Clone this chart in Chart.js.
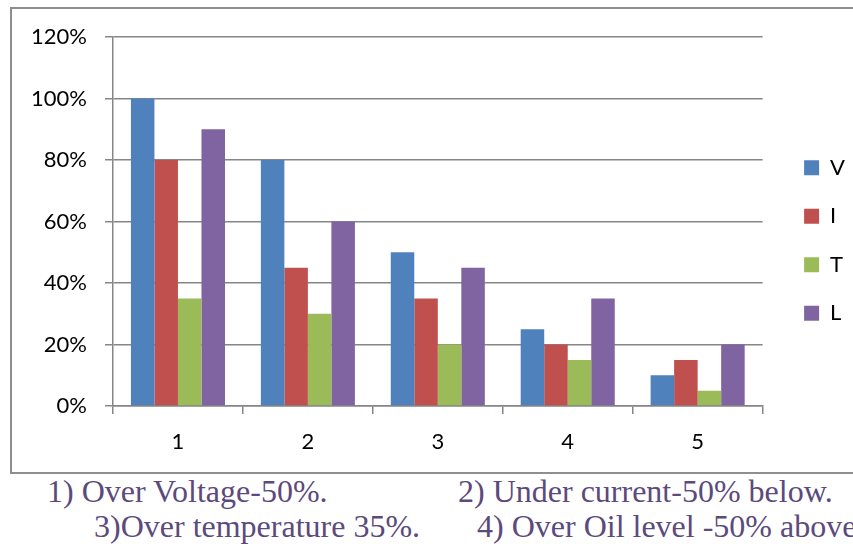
<!DOCTYPE html>
<html>
<head>
<meta charset="utf-8">
<script src="https://cdn.jsdelivr.net/npm/chart.js@4/dist/chart.umd.min.js"></script>
<style>
  html, body { margin:0; padding:0; background:#fff; width:853px; height:544px; overflow:hidden; }
  #box { position:absolute; left:10px; top:7px; width:900px; height:467px; border:2px solid #8e8e8e; box-sizing:border-box; }
  #wrap { position:absolute; left:12px; top:9px; width:841px; height:461px; }
  .cap { position:absolute; font-family:"Liberation Serif","Times New Roman",serif; font-size:32px; line-height:32px; color:#5c4a7d; white-space:pre; }
</style>
</head>
<body>
<div id="box"></div>
<div id="wrap"><canvas id="c" width="841" height="461"></canvas></div>
<div class="cap" style="left:47px; top:475px;">1) Over Voltage-50%.</div>
<div class="cap" style="left:458px; top:475px;">2) Under current-50% below.</div>
<div class="cap" style="left:94px; top:510px;">3)Over temperature 35%.</div>
<div class="cap" style="left:477px; top:510px;">4) Over Oil level -50% above</div>
<script>
const categories = ["1", "2", "3", "4", "5"];
const seriesNames = ["V", "I", "T", "L"];
const V = [100, 80, 50, 25, 10];
const I = [80, 45, 35, 20, 15];
const T = [35, 30, 20, 15, 5];
const L = [90, 60, 45, 35, 20];
const yTicks = [0, 20, 40, 60, 80, 100, 120];

const colors = ["#4F81BD", "#C0504D", "#9BBB59", "#8064A2"];
const values = [V, I, T, L];
const tickFont = { family: 'Lato, "Liberation Sans", sans-serif', size: 22 };

const legendShift = {
  id: 'legendShift',
  afterLayout(chart) {
    const lg = chart.legend;
    if (!lg) return;
    lg.left += 15; lg.right += 15;
    lg.top -= 13; lg.bottom -= 13;
  }
};

new Chart(document.getElementById('c'), {
  type: 'bar',
  data: {
    labels: categories,
    datasets: seriesNames.map((n, i) => ({
      label: n,
      data: values[i],
      backgroundColor: colors[i],
      borderWidth: 0,
      categoryPercentage: 0.724,
      barPercentage: 1.0
    }))
  },
  options: {
    responsive: false,
    animation: false,
    layout: { padding: { top: 28, right: 13, bottom: 0, left: 0 } },
    plugins: {
      tooltip: { enabled: false },
      legend: {
        position: 'right',
        labels: {
          boxWidth: 15, boxHeight: 15, padding: 26.5,
          color: '#000',
          font: { family: 'Lato, "Liberation Sans", sans-serif', size: 22 }
        }
      }
    },
    scales: {
      x: {
        grid: { display: true, offset: true, drawOnChartArea: false, drawTicks: true, tickLength: 8, color: '#868686', lineWidth: 1.5 },
        border: { display: true, color: '#868686', width: 1.5 },
        ticks: { color: '#000', padding: 15, font: tickFont },
        afterFit: s => { s.height = 64; }
      },
      y: {
        min: 0, max: 120,
        afterBuildTicks: s => { s.ticks = yTicks.map(v => ({ value: v })); },
        grid: { color: '#868686', lineWidth: 1.5, tickLength: 8 },
        border: { display: true, color: '#868686', width: 1.5 },
        ticks: { color: '#000', padding: 18, callback: v => v + '%', font: tickFont },
        afterFit: s => { s.width = 101; s.paddingTop = 0; s.paddingBottom = 0; }
      }
    }
  },
  plugins: [legendShift]
});
</script>
</body>
</html>
